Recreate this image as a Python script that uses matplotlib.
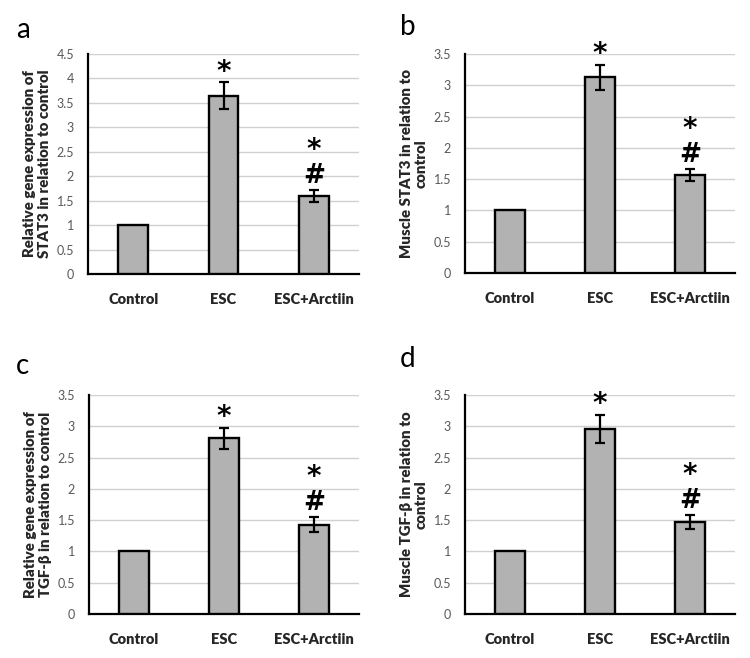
import matplotlib
matplotlib.use('Agg')
from matplotlib import pyplot as plt

plt.rcParams['font.family'] = ['Lato', 'DejaVu Sans']

groups = ['Control', 'ESC', 'ESC+Arctiin']

# panel values (mean, error)
stat3_gene = [1.0, 3.65, 1.60]
stat3_gene_err = [0, 0.27, 0.12]
stat3_muscle = [1.0, 3.13, 1.57]
stat3_muscle_err = [0, 0.20, 0.10]
tgf_gene = [1.0, 2.81, 1.43]
tgf_gene_err = [0, 0.17, 0.12]
tgf_muscle = [1.0, 2.96, 1.47]
tgf_muscle_err = [0, 0.22, 0.11]

ylabels = ['Relative gene expression of\nSTAT3 in relation to control',
           'Muscle STAT3 in relation to\ncontrol',
           'Relative gene expression of\nTGF-β in relation to control',
           'Muscle TGF-β in relation to\ncontrol']
letters = ['a', 'b', 'c', 'd']
ymaxes = [4.5, 3.5, 3.5, 3.5]

fig = plt.figure(figsize=(7.5, 6.58), dpi=100)

W, H = 750, 658
boxes = [(88, 54, 359, 274), (465, 54, 735, 273),
         (89, 395, 359, 614), (465, 395, 735, 614)]
letter_pos = [(16, 30), (400, 27), (16, 366), (400, 359)]

panels = [(stat3_gene, stat3_gene_err), (stat3_muscle, stat3_muscle_err),
          (tgf_gene, tgf_gene_err), (tgf_muscle, tgf_muscle_err)]

mark_font = dict(family='DejaVu Sans', fontweight='bold', ha='center', va='baseline')

for k, (vals, errs) in enumerate(panels):
    x0, y0, x1, y1 = boxes[k]
    ax = fig.add_axes([x0 / W, 1 - y1 / H, (x1 - x0) / W, (y1 - y0) / H])
    xs = range(len(groups))
    ax.bar(xs, vals, width=0.33, color='#b2b2b2', edgecolor='black', linewidth=1.7, zorder=3)
    ax.errorbar(list(xs)[1:], vals[1:], yerr=errs[1:], fmt='none', ecolor='black',
                elinewidth=1.6, capsize=3.5, capthick=1.6, zorder=4)
    ax.set_xlim(-0.5, 2.5)
    ax.set_ylim(0, ymaxes[k])
    ticks = [i * 0.5 for i in range(int(ymaxes[k] / 0.5) + 1)]
    ax.set_yticks(ticks)
    ax.set_yticklabels([('%g' % t) for t in ticks], fontsize=9, color='#595959')
    ax.set_xticks(list(xs))
    ax.set_xticklabels(groups, fontsize=10.5, fontweight='heavy', color='#262626')
    ax.tick_params(axis='both', length=0)
    ax.tick_params(axis='x', pad=14)
    ax.tick_params(axis='y', pad=10)
    ax.yaxis.grid(True, color='#d0d0d0', linewidth=1.0, zorder=0)
    ax.set_axisbelow(True)
    for s in ['top', 'right']:
        ax.spines[s].set_visible(False)
    ax.spines['left'].set_linewidth(1.6)
    ax.spines['bottom'].set_linewidth(1.6)
    ax.set_ylabel(ylabels[k], fontsize=10.8, fontweight='heavy', color='#262626', labelpad=4)

    # significance marks
    top_esc = vals[1] + errs[1]
    ax.annotate('*', xy=(1, top_esc), xytext=(0, 2), textcoords='offset points',
                fontsize=20, **mark_font)
    top_arc = vals[2] + errs[2]
    ax.annotate('#', xy=(2, top_arc), xytext=(0, 5), textcoords='offset points',
                fontsize=19, **mark_font)
    ax.annotate('*', xy=(2, top_arc), xytext=(0, 23), textcoords='offset points',
                fontsize=20, **mark_font)

    lx, ly = letter_pos[k]
    fig.text(lx / W, 1 - ly / H, letters[k], fontsize=20, ha='left', va='center')

fig.savefig('out.png', dpi=100)
